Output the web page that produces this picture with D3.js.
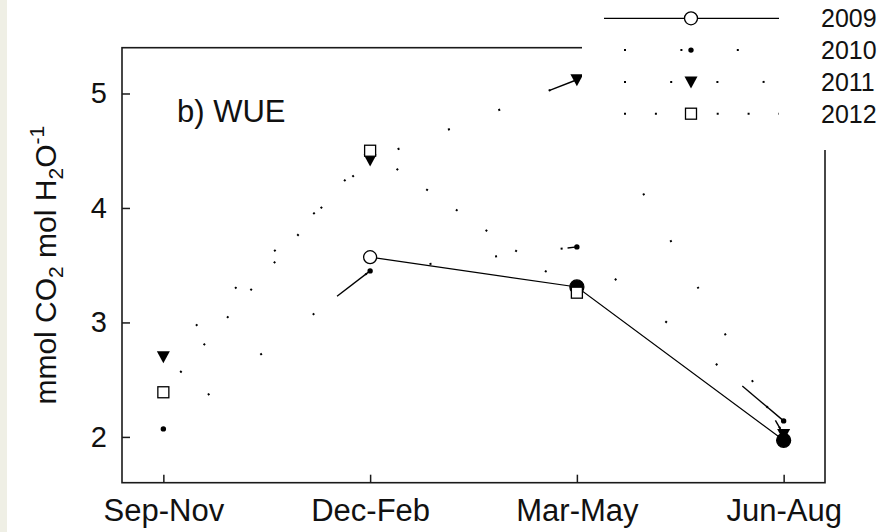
<!DOCTYPE html>
<html>
<head>
<meta charset="utf-8">
<script src="https://cdn.jsdelivr.net/npm/d3@7"></script>
<style>
  body { margin: 0; background: #fff; }
  svg { display: block; font-family: "Liberation Sans", Arial, sans-serif; }
</style>
</head>
<body>
<div id="chart"></div>
<script>
// seasons on x, WUE per year
var seasons = ["Sep-Nov", "Dec-Feb", "Mar-May", "Jun-Aug"]
var years = ["2009", "2010", "2011", "2012"]
var wue2009 = [null, 3.57, 3.31, 1.97]
var wue2010 = [2.07, 3.45, 3.66, 2.14]
var wue2011 = [2.70, 4.42, 5.12, 2.02]
var wue2012 = [2.39, 4.50, 3.26, null]
var yTicks = [2, 3, 4, 5]

var width = 883, height = 532
var margin = { left: 122, right: 58, top: 47.7, bottom: 49.3 }

var svg = d3.select("#chart").append("svg")
    .attr("width", width)
    .attr("height", height)

// faint strip on the left edge of the scan
svg.append("rect").attr("x", 0).attr("y", 0).attr("width", 7).attr("height", height)
    .attr("fill", "#efefe5")

var x = d3.scalePoint().domain(seasons)
    .range([margin.left, width - margin.right]).padding(0.2)
var y = d3.scaleLinear().domain([1.6, 5.4])
    .range([height - margin.bottom, margin.top])

// frame
svg.append("rect")
    .attr("x", margin.left).attr("y", margin.top)
    .attr("width", width - margin.left - margin.right)
    .attr("height", height - margin.top - margin.bottom)
    .attr("fill", "none").attr("stroke", "#1a1a1a").attr("stroke-width", 1.6)

var yAxis = svg.append("g")
    .attr("transform", "translate(" + margin.left + ",0)")
    .call(d3.axisLeft(y).tickValues(yTicks).tickFormat(d3.format("d"))
        .tickSizeInner(-8).tickSizeOuter(0).tickPadding(15))
yAxis.select(".domain").remove()
yAxis.selectAll("line").attr("stroke", "#1a1a1a").attr("stroke-width", 1.5)
yAxis.selectAll("text").attr("font-size", 29).attr("fill", "#111")
    .attr("font-family", "Liberation Sans, Arial, sans-serif")

var xAxis = svg.append("g")
    .attr("transform", "translate(0," + (height - margin.bottom) + ")")
    .call(d3.axisBottom(x).tickSizeInner(-8).tickSizeOuter(0).tickPadding(16))
xAxis.select(".domain").remove()
xAxis.selectAll("line").attr("stroke", "#1a1a1a").attr("stroke-width", 1.5)
xAxis.selectAll("text").attr("font-size", 31).attr("fill", "#111")
    .attr("font-family", "Liberation Sans, Arial, sans-serif")

// y label with sub/superscripts
var ylab = svg.append("text")
    .attr("transform", "translate(56," + ((margin.top + height - margin.bottom) / 2) + ") rotate(-90)")
    .attr("text-anchor", "middle")
    .attr("font-size", 30).attr("fill", "#111")
ylab.append("tspan").text("mmol CO")
ylab.append("tspan").text("2").attr("font-size", 21).attr("dy", 7)
ylab.append("tspan").text(" mol H").attr("dy", -7)
ylab.append("tspan").text("2").attr("font-size", 21).attr("dy", 7)
ylab.append("tspan").text("O").attr("dy", -7)
ylab.append("tspan").text("-1").attr("font-size", 21).attr("dy", -12)

svg.append("text").attr("x", 177).attr("y", 122)
    .attr("font-size", 31).attr("fill", "#111").text("b) WUE")

var series = [
    { name: years[0], values: wue2009, dash: null, offset: 0, marker: "circle" },
    { name: years[1], values: wue2010, dash: "2,64", offset: 10, marker: "dot" },
    { name: years[2], values: wue2011, dash: "2,52", offset: 9, marker: "tri" },
    { name: years[3], values: wue2012, dash: "2,34", offset: 10, marker: "square" }
]
// 2009 points that print as solid discs
var filled2009 = [false, false, true, true]
// solid lead-in strokes just before some points: [series, end point, fraction of segment]
var leadIns = [[1, 1, 0.16], [1, 2, 0.045], [1, 3, 0.2], [2, 2, 0.135], [2, 3, 0.04]]

var line = d3.line()
    .defined(function (d) { return d.v != null; })
    .x(function (d) { return x(d.s); })
    .y(function (d) { return y(d.v); })

function draw_marker(g, type, cx, cy, solid) {
    if (type == "circle") {
        g.append("circle").attr("cx", cx).attr("cy", cy).attr("r", solid ? 7 : 6.5)
            .attr("fill", solid ? "#000" : "#fff").attr("stroke", "#000").attr("stroke-width", 1.3)
    } else if (type == "dot") {
        g.append("circle").attr("cx", cx).attr("cy", cy).attr("r", 2.7).attr("fill", "#000")
    } else if (type == "tri") {
        g.append("path")
            .attr("d", "M" + (cx - 6.5) + "," + (cy - 5.5) + "L" + (cx + 6.5) + "," + (cy - 5.5) + "L" + cx + "," + (cy + 6.5) + "Z")
            .attr("fill", "#000")
    } else if (type == "square") {
        g.append("rect").attr("x", cx - 5.5).attr("y", cy - 5.5).attr("width", 11).attr("height", 11)
            .attr("fill", "#fff").attr("stroke", "#000").attr("stroke-width", 1.3)
    }
}

series.forEach(function (s) {
    var pts = seasons.map(function (d, i) { return { s: d, v: s.values[i] }; })
    var path = svg.append("path").datum(pts)
        .attr("d", line)
        .attr("fill", "none").attr("stroke", "#000")
        .attr("stroke-width", s.dash ? 2 : 1.2)
    if (s.dash) path.attr("stroke-dasharray", s.dash).attr("stroke-dashoffset", s.offset)
})
leadIns.forEach(function (d) {
    var vals = series[d[0]].values
    var x1 = x(seasons[d[1]]), y1 = y(vals[d[1]])
    var x0 = x(seasons[d[1] - 1]), y0 = y(vals[d[1] - 1])
    svg.append("line")
        .attr("x1", x1 + (x0 - x1) * d[2]).attr("y1", y1 + (y0 - y1) * d[2])
        .attr("x2", x1).attr("y2", y1)
        .attr("stroke", "#000").attr("stroke-width", 1.4)
})
series.forEach(function (s) {
    var g = svg.append("g")
    s.values.forEach(function (v, i) {
        if (v == null) return
        var solid = s.marker == "circle" && filled2009[i]
        draw_marker(g, s.marker, x(seasons[i]), y(v), solid)
    })
})

// legend on a white panel over the top-right corner
var leg = svg.append("g")
leg.append("rect").attr("x", 582).attr("y", 0).attr("width", width - 582).attr("height", 150)
    .attr("fill", "#fff")
series.forEach(function (s, i) {
    var ly = 18.3 + i * 31.8
    var l = leg.append("line").attr("x1", 604).attr("x2", 779).attr("y1", ly).attr("y2", ly)
        .attr("stroke", "#000").attr("stroke-width", s.dash ? 2 : 1.2)
    if (s.dash) {
        var per = +s.dash.split(",")[1]
        l.attr("stroke-dasharray", "2," + (per * 0.85)).attr("stroke-dashoffset", -20)
    }
    draw_marker(leg, s.marker, 691, ly, false)
    leg.append("text").attr("x", 821).attr("y", ly + 8.8)
        .attr("font-size", 25).attr("fill", "#111").text(s.name)
})
</script>
</body>
</html>
